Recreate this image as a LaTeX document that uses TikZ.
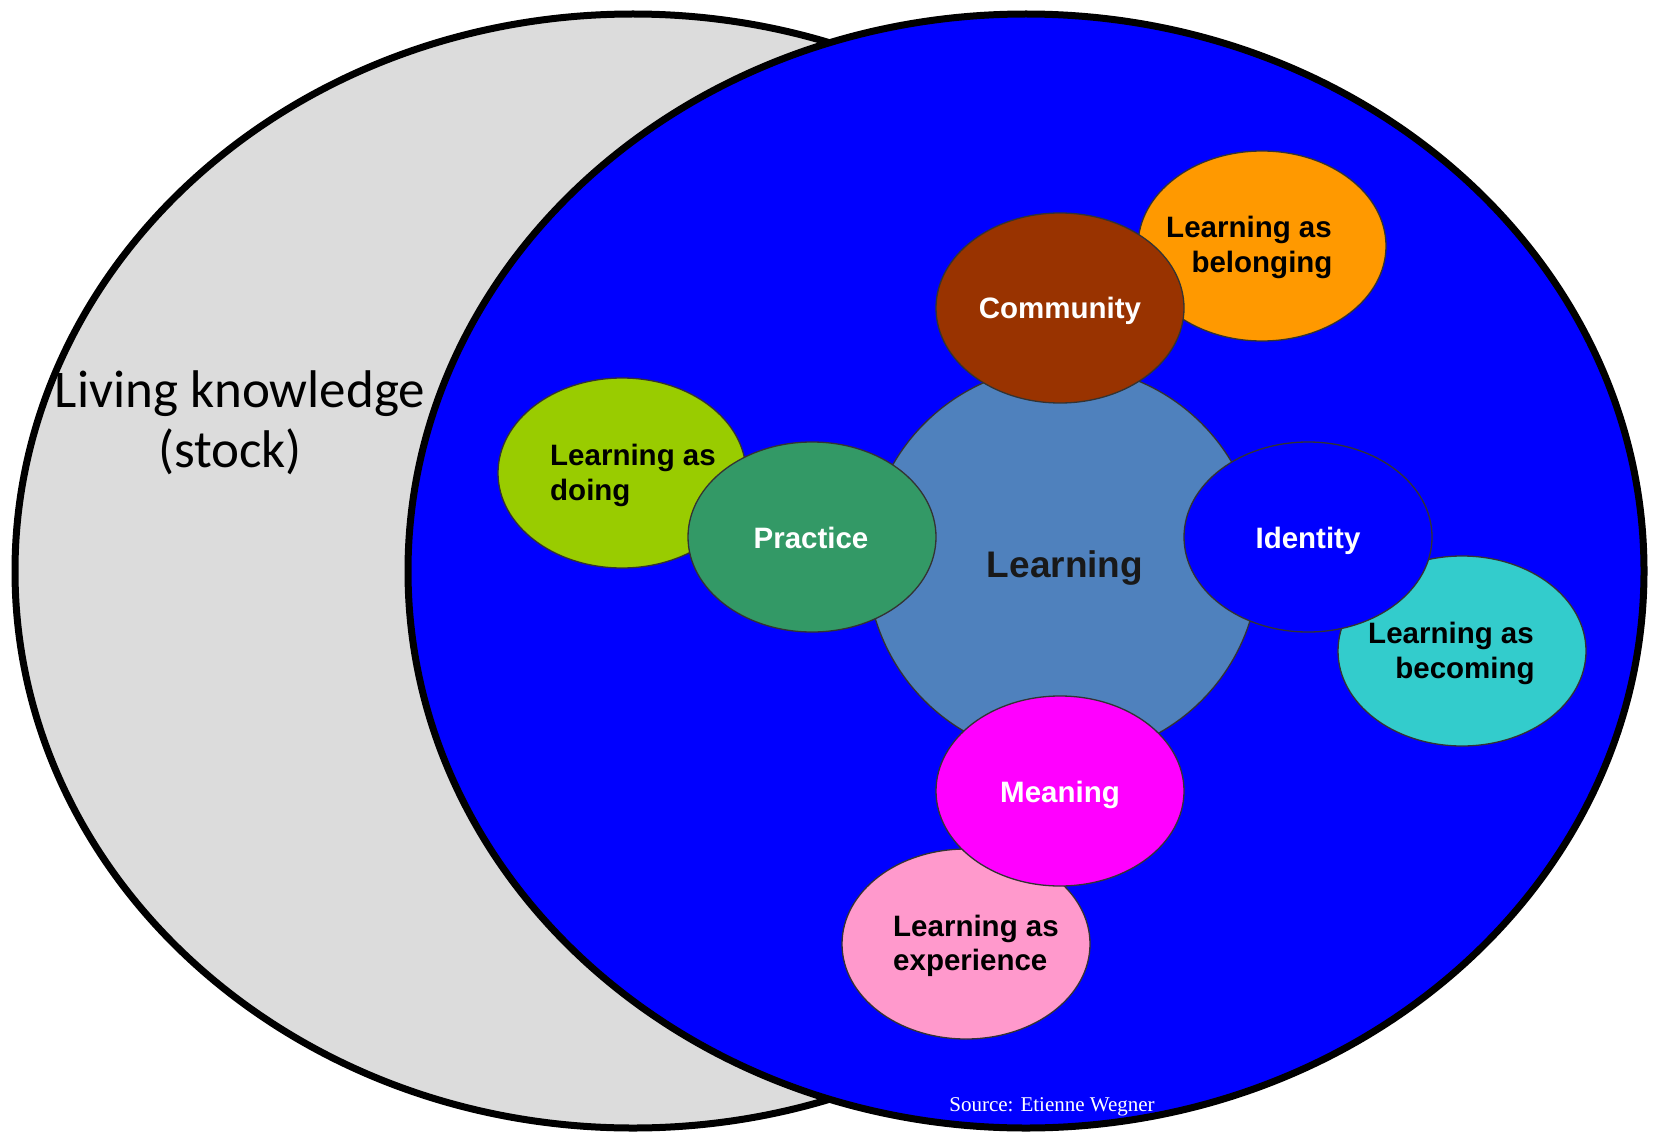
\documentclass[tikz,border=0pt]{standalone}
\usepackage{fontspec}
\setmainfont{Liberation Sans}
\newfontfamily\calibrifont{Carlito}
\newfontfamily\timesfont{Liberation Serif}
\usetikzlibrary{shapes.geometric}
\definecolor{stockgray}{HTML}{DCDCDC}
\definecolor{bgblue}{HTML}{0000FF}
\definecolor{learnblue}{HTML}{4F81BD}
\definecolor{practgreen}{HTML}{339966}
\definecolor{doinggreen}{HTML}{99CC00}
\definecolor{commbrown}{HTML}{993300}
\definecolor{belorange}{HTML}{FF9900}
\definecolor{becturq}{HTML}{33CCCC}
\definecolor{meanmag}{HTML}{FF00FF}
\definecolor{exppink}{HTML}{FF99CC}
\begin{document}
\begin{tikzpicture}[x=1pt,y=-1pt,
  bigell/.style={ellipse, draw=black, line width=7pt, minimum width=1236pt, minimum height=1114pt, inner sep=0pt, outer sep=0pt},
  blob/.style={ellipse, draw=black!80, line width=1.3pt, minimum width=248pt, minimum height=190pt, inner sep=0pt, outer sep=0pt},
  sublbl/.style={font=\fontsize{29.5}{35}\selectfont\bfseries, text=black, inner sep=0pt},
  mainlbl/.style={font=\fontsize{29.5}{35}\selectfont\bfseries, text=white, inner sep=0pt}
]
\fill[white] (0,0) rectangle (1662,1134);
\useasboundingbox (0,0) rectangle (1662,1134);

% Venn ellipses
\node[bigell, fill=stockgray] (stock) at (633,571) {};
\node[bigell, fill=bgblue] (wenger) at (1026,571) {};

% Living knowledge label
\node[font=\calibrifont\fontsize{53}{60}\selectfont, anchor=base, inner sep=0pt] (lk1) at (240,407) {Living knowledge};
\node[font=\calibrifont\fontsize{53}{60}\selectfont, anchor=base, inner sep=0pt] (lk2) at (230,467) {(stock)};

% central circle
\node[circle, draw=black!80, line width=1.3pt, fill=learnblue, minimum size=392pt, inner sep=0pt] (learning) at (1063,562) {};
\node[font=\fontsize{37}{42}\selectfont\bfseries, text=black!90, anchor=base, inner sep=0pt] (learningtxt) at (1065,577) {Learning};

% belonging / community
\node[blob, fill=belorange] (belonging) at (1262,246) {};
\node[blob, fill=commbrown] (community) at (1060,308) {};
\node[sublbl, anchor=base] (bel1) at (1249,237) {Learning as};
\node[sublbl, anchor=base] (bel2) at (1262,272) {belonging};
\node[mainlbl, anchor=base] (commtxt) at (1060,318) {Community};

% doing / practice
\node[blob, fill=doinggreen] (doing) at (622,473) {};
\node[blob, fill=practgreen] (practice) at (812,537) {};
\node[sublbl, anchor=base west] (doi1) at (550,465) {Learning as};
\node[sublbl, anchor=base west] (doi2) at (550,500) {doing};
\node[mainlbl, anchor=base] (practtxt) at (811,548) {Practice};

% becoming / identity
\node[blob, fill=becturq] (becoming) at (1462,651) {};
\node[blob, fill=bgblue] (identity) at (1308,537) {};
\node[sublbl, anchor=base] (bec1) at (1451,643) {Learning as};
\node[sublbl, anchor=base] (bec2) at (1465,678) {becoming};
\node[mainlbl, anchor=base] (identtxt) at (1308,548) {Identity};

% experience / meaning
\node[blob, fill=exppink] (experience) at (966,944) {};
\node[blob, fill=meanmag] (meaning) at (1060,791) {};
\node[sublbl, anchor=base west] (exp1) at (893,936) {Learning as};
\node[sublbl, anchor=base west] (exp2) at (893,970) {experience};
\node[mainlbl, anchor=base] (meantxt) at (1060,802) {Meaning};

% source
\node[font=\timesfont\fontsize{21}{24}\selectfont, text=white, anchor=base, inner sep=0pt] (source) at (1052,1111) {Source: Etienne Wegner};
\end{tikzpicture}
\end{document}
